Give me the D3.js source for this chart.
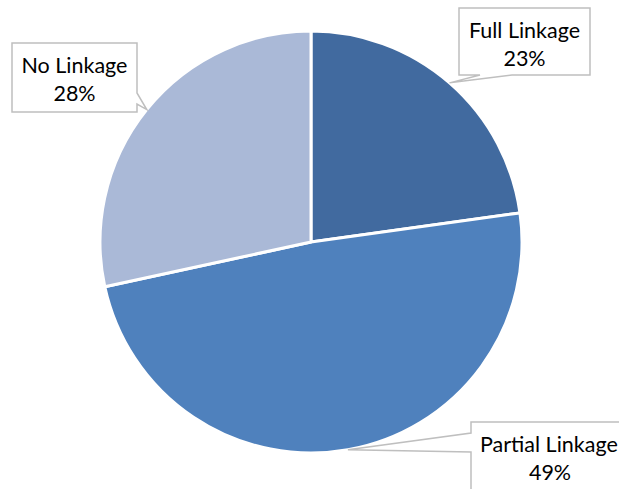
<!DOCTYPE html>
<html><head><meta charset="utf-8">
<script src="https://cdn.jsdelivr.net/npm/d3@7"></script>
<style>html,body{margin:0;padding:0;background:#fff;overflow:hidden}</style>
</head><body>
<svg id="c" width="619" height="489"></svg>
<script>
const categories = ["Full Linkage", "Partial Linkage", "No Linkage"];
const values = [22.8, 48.8, 28.4];
const colors = ["#416A9F", "#4F81BD", "#AAB9D7"];

const W = 619, H = 489;
const cx = 311, cy = 242, R = 211;
const svg = d3.select("#c");
const g = svg.append("g").attr("transform", `translate(${cx},${cy})`);

const pie = d3.pie().sort(null).value(d => d.v).startAngle(0).endAngle(2 * Math.PI);
const data = pie(categories.map((c, i) => ({ c, v: values[i], col: colors[i] })));
const arc = d3.arc().innerRadius(0).outerRadius(R);

g.selectAll("path.slice").data(data).join("path")
  .attr("class", "slice")
  .attr("d", arc)
  .attr("fill", d => d.data.col)
  .attr("stroke", "#fff")
  .attr("stroke-width", 3)
  .attr("stroke-linejoin", "round");

// label box layout (positions of callouts)
const boxes = [
  { x: 459, y: 8, w: 131, h: 67, side: "bottom", b1: 480, b2: 512 },
  { x: 471, y: 422, w: 170, h: 80, side: "left", b1: 433, b2: 452 },
  { x: 12, y: 43, w: 125, h: 69, side: "right", b1: 93, b2: 104 }
];

const total = d3.sum(values);
data.forEach((d, i) => {
  const b = boxes[i];
  const mid = (d.startAngle + d.endAngle) / 2;
  const tx = cx + R * Math.sin(mid), ty = cy - R * Math.cos(mid);
  const x0 = b.x, y0 = b.y, x1 = b.x + b.w, y1 = b.y + b.h;
  let pts;
  if (b.side === "bottom") {
    pts = [[x0, y0], [x1, y0], [x1, y1], [b.b2, y1], [tx, ty], [b.b1, y1], [x0, y1]];
  } else if (b.side === "left") {
    pts = [[x0, y0], [x1, y0], [x1, y1], [x0, y1], [x0, b.b2], [tx, ty], [x0, b.b1]];
  } else {
    pts = [[x0, y0], [x1, y0], [x1, b.b1], [tx, ty], [x1, b.b2], [x1, y1], [x0, y1]];
  }
  svg.append("path")
    .attr("d", d3.line()(pts) + "Z")
    .attr("fill", "#fff")
    .attr("stroke", "#BFBFBF")
    .attr("stroke-width", 1.5);
  const pct = Math.round(d.data.v / total * 100) + "%";
  const tcx = b.x + b.w / 2;
  const t = svg.append("text")
    .attr("font-family", "Lato, 'Open Sans', sans-serif")
    .attr("font-size", 21.5)
    .attr("fill", "#000");
  t.append("tspan").attr("x", b.side === "left" ? b.x + 9 : tcx)
    .attr("text-anchor", b.side === "left" ? "start" : "middle")
    .attr("y", b.y + 30).text(d.data.c);
  t.append("tspan").attr("x", b.side === "left" ? 550 : tcx)
    .attr("text-anchor", "middle")
    .attr("y", b.y + 58).text(pct);
});
</script>
</body></html>
